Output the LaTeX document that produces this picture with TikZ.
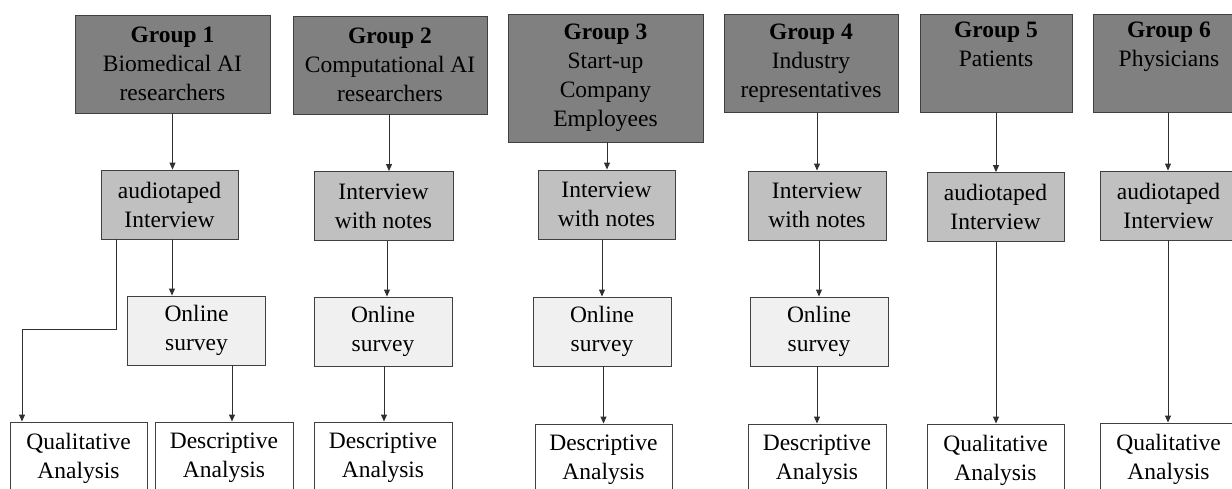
\documentclass[tikz,border=0pt]{standalone}
\usepackage{fontspec}
\setmainfont{Liberation Serif}
\usetikzlibrary{arrows.meta}
\definecolor{bordergray}{HTML}{404040}
\definecolor{arrowgray}{HTML}{303030}
\definecolor{grpgray}{HTML}{808080}
\definecolor{intgray}{HTML}{C0C0C0}
\definecolor{survgray}{HTML}{F0F0F0}
\begin{document}
\begin{tikzpicture}[x=1pt,y=-1pt,
  box/.style={draw=bordergray, line width=0.9pt, align=center, inner sep=0pt,
    font=\fontsize{23.5}{29}\selectfont, text=black},
  grp/.style={box, fill=grpgray, minimum height=98pt},
  intv/.style={box, fill=intgray, minimum width=137pt, minimum height=69pt},
  surv/.style={box, fill=survgray, minimum width=138pt, minimum height=69pt},
  ana/.style={box, fill=white, minimum width=138pt, minimum height=72pt},
  arr/.style={draw=arrowgray, line width=0.9pt, -{Triangle[length=7pt,width=6pt]}}
]
\useasboundingbox (0,0) rectangle (1232,488);
\clip (0,0) rectangle (1232,488);

% group boxes
\node[grp, minimum width=195pt] (g1) at (172.5,64) {\textbf{Group 1}\\Biomedical AI\\researchers};
\node[grp, minimum width=194pt] (g2) at (390,65) {\textbf{Group 2}\\Computational AI\\researchers};
\node[grp, minimum width=195pt, minimum height=128pt] (g3) at (605.5,78) {\textbf{Group 3}\\Start-up\\Company\\Employees};
\node[grp, minimum width=174pt] (g4) at (811,63) {\textbf{Group 4}\\Industry\\representatives};
\node[grp, minimum width=152pt] (g5) at (996,63) {\textbf{Group 5}\\Patients\\\strut};
\node[grp, minimum width=152pt] (g6) at (1169,63) {\textbf{Group 6}\\Physicians\\\strut};

% interview boxes
\node[intv] (i1) at (169.5,204.5) {audiotaped\\Interview};
\node[intv, minimum width=139pt] (i2) at (383.5,206) {Interview\\with notes};
\node[intv] (i3) at (606.5,204.5) {Interview\\with notes};
\node[intv, minimum width=138pt] (i4) at (817,205.5) {Interview\\with notes};
\node[intv] (i5) at (995.5,207) {audiotaped\\Interview};
\node[intv] (i6) at (1168.5,205.5) {audiotaped\\Interview};

% online survey boxes
\node[surv] (o1) at (196.5,330.5) {Online\\survey};
\node[surv] (o2) at (383,331.5) {Online\\survey};
\node[surv] (o3) at (602,331.5) {Online\\survey};
\node[surv] (o4) at (819,331.5) {Online\\survey};

% analysis boxes
\node[ana, minimum width=137pt] (q1) at (78.5,458) {Qualitative\\Analysis};
\node[ana] (d1) at (224,458) {Descriptive\\Analysis};
\node[ana] (d2) at (383,458) {Descriptive\\Analysis};
\node[ana, minimum width=137pt] (d3) at (603.5,460) {Descriptive\\Analysis};
\node[ana] (d4) at (817,460) {Descriptive\\Analysis};
\node[ana, minimum width=137pt] (q5) at (995.5,460) {Qualitative\\Analysis};
\node[ana, minimum width=137pt] (q6) at (1168.5,459) {Qualitative\\Analysis};

% group -> interview
\draw[arr] (g1.south) -- (g1.south |- i1.north);
\draw[arr] ([xshift=-1pt]g2.south) -- ([xshift=-1pt]g2.south |- i2.north);
\draw[arr] ([xshift=1.5pt]g3.south) -- ([xshift=1.5pt]g3.south |- i3.north);
\draw[arr] (i4.north |- g4.south) -- (i4.north);
\draw[arr] (g5.south) -- (g5.south |- i5.north);
\draw[arr] ([xshift=-1pt]g6.south) -- ([xshift=-1pt]g6.south |- i6.north);

% interview -> survey
\draw[arr] ([xshift=2.5pt]i1.south) -- ([xshift=2.5pt]i1.south |- o1.north);
\draw[arr] ([xshift=3.5pt]i2.south) -- ([xshift=3.5pt]i2.south |- o2.north);
\draw[arr] (o3.north |- i3.south) -- (o3.north);
\draw[arr] (o4.north |- i4.south) -- (o4.north);

% survey -> analysis
\draw[arr] ([xshift=8pt]d1.north |- o1.south) -- ([xshift=8pt]d1.north);
\draw[arr] ([xshift=1pt]o2.south) -- ([xshift=1pt]o2.south |- d2.north);
\draw[arr] (d3.north |- o3.south) -- (d3.north);
\draw[arr] (d4.north |- o4.south) -- (d4.north);

% interview -> qualitative analysis
\coordinate (k1) at (22,329);
\draw[arr] ([xshift=-53.5pt]i1.south) |- (k1) -- (k1 |- q1.north);
\draw[arr] ([xshift=0.5pt]i5.south) -- ([xshift=0.5pt]i5.south |- q5.north);
\draw[arr] ([xshift=-0.5pt]i6.south) -- ([xshift=-0.5pt]i6.south |- q6.north);
\end{tikzpicture}
\end{document}
